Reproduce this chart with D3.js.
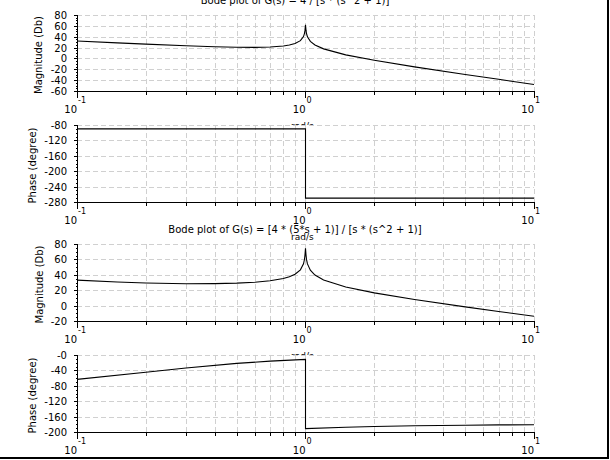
<!DOCTYPE html>
<html><head><meta charset="utf-8">
<script src="https://cdn.jsdelivr.net/npm/d3@7"></script>
<style>body{margin:0;background:#fff} svg{display:block} text{font-family:"DejaVu Sans",sans-serif;fill:#000}</style>
</head><body><svg id="c" width="610" height="460"></svg>
<script>
// ---- data ----
const titles = ["Bode plot of G(s) = 4 / [s * (s^2 + 1)]", "Bode plot of G(s) = [4 * (5*s + 1)] / [s * (s^2 + 1)]"];
const xLabel = "rad/s";
const yLabels = ["Magnitude (Db)", "Phase (degree)", "Magnitude (Db)", "Phase (degree)"];
const xDomain = [0.1, 10];
const xMajor = [0.1, 1, 10];
const xMajorExp = ["-1", "0", "1"];
const magFreq = [0.1,0.15,0.2,0.3,0.4,0.5,0.6,0.7,0.8,0.85,0.9,0.95,0.98,0.99,0.995,1,1.005,1.01,1.02,1.05,1.1,1.2,1.5,2,3,5,7,10];
const mag1 = [32.1,28.7,26.4,23.3,21.5,20.6,20.4,21.0,22.9,24.6,27.4,32.7,40.3,46.2,52.1,62,52.0,45.9,39.7,31.4,24.8,17.6,6.6,-3.5,-15.6,-29.5,-38.5,-47.9];
const mag2 = [33.1,30.7,29.4,28.4,28.5,29.2,30.4,32.2,35.2,37.4,40.7,46.4,54.3,60.2,66.2,74.5,66.0,60.0,54.1,46.0,39.7,33.3,24.2,16.5,8.0,-1.6,-7.6,-13.9];
const phase1Freq = [0.1,1,1,10];
const phase1 = [-90,-90,-270,-270];
const phase2Freq = [0.1,0.2,0.3,0.5,0.7,1,1,1.5,2,3,5,7,10];
const phase2 = [-63.4,-45,-33.7,-21.8,-16.0,-11.3,-191.3,-187.6,-185.7,-183.8,-182.3,-181.6,-181.1];
const magTicks1 = [80,60,40,20,0,-20,-40,-60];
const phaseTicks1 = [-80,-120,-160,-200,-240,-280];
const magTicks2 = [80,60,40,20,0,-20];
const phaseTicks2 = [0,-40,-80,-120,-160,-200];
const phaseTickLabels2 = ["-0","-40","-80","-120","-160","-200"];

// ---- drawing ----
const svg = d3.select("#c");
const X0 = 77, X1 = 534;
const x = d3.scaleLog().domain(xDomain).range([X0, X1]);
const gridVals = [];
for (let d = 0.1; d < 10; d *= 10) for (let k = 1; k < 10; k++) gridVals.push(+(d * k).toPrecision(3));
gridVals.push(10);

const panels = [
  {top:15, bot:91, ticks:magTicks1, labels:magTicks1.map(String), fx:magFreq, fy:mag1, ylab:yLabels[0], title:titles[0], labX:42, xlab:true},
  {top:125, bot:202, ticks:phaseTicks1, labels:phaseTicks1.map(String), fx:phase1Freq, fy:phase1, ylab:yLabels[1], title:null, labX:36, xlab:true},
  {top:244, bot:321, ticks:magTicks2, labels:magTicks2.map(String), fx:magFreq, fy:mag2, ylab:yLabels[2], title:titles[1], labX:43, xlab:true},
  {top:355, bot:432, ticks:phaseTicks2, labels:phaseTickLabels2, fx:phase2Freq, fy:phase2, ylab:yLabels[3], title:null, labX:36, xlab:false}
];

panels.forEach((p, i) => {
  const y = d3.scaleLinear().domain([d3.min(p.ticks), d3.max(p.ticks)]).range([p.bot, p.top]);
  const g = svg.append("g");
  g.append("rect").attr("x", X0).attr("y", p.top).attr("width", X1 - X0).attr("height", p.bot - p.top).attr("fill", "#fff");
  const cid = "clip" + i;
  g.append("clipPath").attr("id", cid).append("rect").attr("x", X0).attr("y", p.top - 0.5).attr("width", X1 - X0 + 1).attr("height", p.bot - p.top + 1);
  // grid
  const grid = g.append("g").attr("stroke", "#d0d0d0").attr("stroke-dasharray", "5,3").attr("stroke-width", 1).attr("shape-rendering", "crispEdges");
  grid.selectAll(".gv").data(gridVals).join("line")
    .attr("x1", d => Math.round(x(d)) + 0.5).attr("x2", d => Math.round(x(d)) + 0.5)
    .attr("y1", p.top).attr("y2", p.bot);
  grid.selectAll(".gh").data(p.ticks).join("line")
    .attr("x1", X0).attr("x2", X1)
    .attr("y1", d => Math.round(y(d)) + 0.5).attr("y2", d => Math.round(y(d)) + 0.5);
  // curve
  const pts = p.fx.map((f, k) => [f, p.fy[k]]);
  g.append("path").datum(pts).attr("clip-path", `url(#${cid})`)
    .attr("fill", "none").attr("stroke", "#000").attr("stroke-width", 1.1)
    .attr("d", d3.line().x(d => x(d[0])).y(d => y(d[1])));
  // axes
  const ax = g.append("g").attr("stroke", "#000").attr("shape-rendering", "crispEdges");
  const yb = Math.round(p.bot) + 0.5, xl = X0 + 0.5;
  ax.append("line").attr("x1", xl).attr("x2", X1 + 1).attr("y1", yb).attr("y2", yb);
  ax.append("line").attr("x1", xl).attr("x2", xl).attr("y1", p.top).attr("y2", yb);
  // x ticks
  ax.selectAll(".xm").data(gridVals.filter(v => xMajor.indexOf(v) < 0)).join("line")
    .attr("x1", d => Math.round(x(d)) + 0.5).attr("x2", d => Math.round(x(d)) + 0.5)
    .attr("y1", yb).attr("y2", yb + 3);
  ax.selectAll(".xM").data(xMajor).join("line")
    .attr("x1", d => Math.round(x(d)) + 0.5).attr("x2", d => Math.round(x(d)) + 0.5)
    .attr("y1", yb).attr("y2", yb + 6);
  // y ticks
  const step = p.ticks[0] - p.ticks[1];
  const minors = [];
  for (let k = 0; k < p.ticks.length - 1; k++) for (let m = 1; m < 4; m++) minors.push(p.ticks[k] - step * m / 4);
  ax.selectAll(".ym").data(minors).join("line")
    .attr("x1", xl - 2).attr("x2", xl).attr("y1", d => Math.round(y(d)) + 0.5).attr("y2", d => Math.round(y(d)) + 0.5);
  ax.selectAll(".yM").data(p.ticks).join("line")
    .attr("x1", xl - 4).attr("x2", xl).attr("y1", d => Math.round(y(d)) + 0.5).attr("y2", d => Math.round(y(d)) + 0.5);
  // y tick labels
  g.selectAll(".yl").data(p.ticks).join("text")
    .attr("x", 67).attr("y", d => y(d) + 4).attr("text-anchor", "end").attr("font-size", 10)
    .text((d, k) => p.labels[k]);
  // x tick labels (10 with exponent)
  xMajor.forEach((v, k) => {
    g.append("text").attr("x", x(v)).attr("y", p.bot + 22).attr("text-anchor", "end").attr("font-size", 10).text("10");
    g.append("text").attr("x", x(v) + 1).attr("y", p.bot + 12).attr("text-anchor", "start").attr("font-size", 8).text(xMajorExp[k]);
  });
  // x label (partly covered by the next panel, as in the reference)
  if (p.xlab) g.append("text").attr("x", 291).attr("y", p.bot + 38).attr("font-size", 9).text(xLabel);
  // y label
  const cy = (p.top + p.bot) / 2 + 2;
  g.append("text").attr("transform", `translate(${p.labX},${cy}) rotate(-90)`).attr("text-anchor", "middle").attr("font-size", 10).text(p.ylab);
  // title
  if (p.title) g.append("text").attr("x", 295).attr("y", p.top - 11).attr("text-anchor", "middle").attr("font-size", 10).text(p.title);
});

// figure frame (right and bottom edges)
svg.append("line").attr("x1", 608).attr("x2", 608).attr("y1", 0).attr("y2", 459).attr("stroke", "#000").attr("stroke-width", 2);
svg.append("line").attr("x1", 0).attr("x2", 609).attr("y1", 458).attr("y2", 458).attr("stroke", "#000").attr("stroke-width", 2);
</script></body></html>
